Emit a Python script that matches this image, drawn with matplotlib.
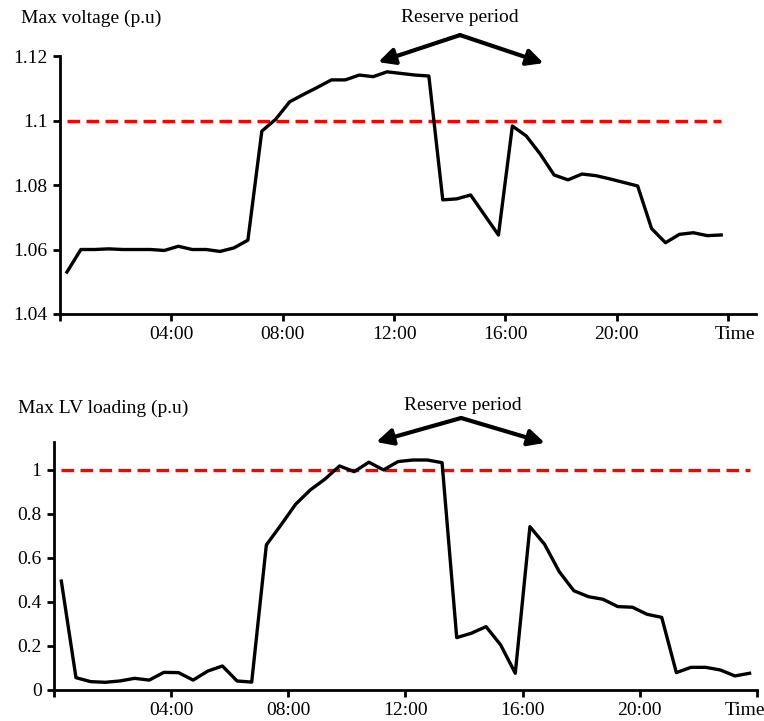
import numpy as np
import matplotlib
matplotlib.use('Agg')
import matplotlib.pyplot as plt
from matplotlib.transforms import ScaledTranslation

plt.rcParams['font.family'] = ['Liberation Serif', 'DejaVu Serif']
plt.rcParams['font.size'] = 14

# half-hour steps, plotted at the middle of each slot
hours = np.arange(48) * 0.5 + 0.25

max_voltage = [1.053, 1.060, 1.060, 1.0602, 1.060, 1.060, 1.060, 1.0597, 1.061, 1.060,
               1.060, 1.0594, 1.0605, 1.0629, 1.0967, 1.1004, 1.1058, 1.1081, 1.1103, 1.1126,
               1.1126, 1.1141, 1.1136, 1.1151, 1.1146, 1.1141, 1.1138, 1.0754, 1.0757, 1.0769,
               1.0707, 1.0645, 1.0983, 1.0952, 1.0896, 1.0831, 1.0816, 1.0834, 1.0829, 1.0819,
               1.0808, 1.0797, 1.0665, 1.0621, 1.0647, 1.0652, 1.0643, 1.0645]
max_loading = [0.495, 0.056, 0.038, 0.035, 0.041, 0.053, 0.045, 0.080, 0.079, 0.045,
               0.086, 0.109, 0.041, 0.036, 0.659, 0.750, 0.844, 0.909, 0.958, 1.018,
               0.992, 1.035, 1.000, 1.038, 1.045, 1.045, 1.033, 0.238, 0.258, 0.288,
               0.205, 0.076, 0.742, 0.662, 0.538, 0.451, 0.424, 0.412, 0.379, 0.376,
               0.344, 0.330, 0.079, 0.103, 0.103, 0.091, 0.064, 0.076]
voltage_limit = 1.1
loading_limit = 1.0

xticks = [0, 4, 8, 12, 16, 20, 24]
xticklabels = ['', '04:00', '08:00', '12:00', '16:00', '20:00', 'Time']

fig = plt.figure(figsize=(7.64, 7.21), dpi=100)
ax1 = fig.add_axes([0.0785, 0.5645, 0.911, 0.3578])
ax2 = fig.add_axes([0.0707, 0.043, 0.920, 0.344])


def style(ax, time_shift):
    for s in ['top', 'right']:
        ax.spines[s].set_visible(False)
    for s in ['left', 'bottom']:
        ax.spines[s].set_linewidth(2)
    ax.tick_params(width=2, length=5, direction='out', pad=4)
    ax.set_xticks(xticks)
    ax.set_xticklabels(xticklabels)
    # the "Time" label sits a little off its tick
    last = ax.get_xticklabels()[-1]
    last.set_transform(last.get_transform() + ScaledTranslation(time_shift / 100, 0, fig.dpi_scale_trans))


arrow = dict(arrowstyle='-|>,head_length=0.7,head_width=0.35',
             color='black', lw=3, shrinkA=0, shrinkB=0)

# top: voltage
ax1.plot(hours, [voltage_limit] * len(hours), color='red', lw=2.4, dashes=(3.8, 1.9))
ax1.plot(hours, max_voltage, color='black', lw=2.4)
ax1.set_xlim(0, 25)
ax1.set_ylim(1.04, 1.12)
ax1.set_yticks([1.04, 1.06, 1.08, 1.1, 1.12])
ax1.set_yticklabels(['1.04', '1.06', '1.08', '1.1', '1.12'])
style(ax1, 7)
fig.text(0.027, 0.975, 'Max voltage (p.u)', ha='left', va='center')
ax1.text(14.37, 1.1318, 'Reserve period', ha='center', va='center')
for tx, ty in [(11.43, 1.1181), (17.37, 1.1178)]:
    ax1.annotate('', xy=(tx, ty), xytext=(14.37, 1.1265), annotation_clip=False, arrowprops=arrow)

# bottom: LV loading
ax2.plot(hours, [loading_limit] * len(hours), color='red', lw=2.4, dashes=(3.8, 1.9))
ax2.plot(hours, max_loading, color='black', lw=2.4)
ax2.set_xlim(0, 24)
ax2.set_ylim(0, 1.127)
ax2.set_yticks([0, 0.2, 0.4, 0.6, 0.8, 1])
ax2.set_yticklabels(['0', '0.2', '0.4', '0.6', '0.8', '1'])
style(ax2, -12)
fig.text(0.024, 0.434, 'Max LV loading (p.u)', ha='left', va='center')
ax2.text(13.95, 1.295, 'Reserve period', ha='center', va='center')
for tx, ty in [(11.0, 1.127), (16.76, 1.123)]:
    ax2.annotate('', xy=(tx, ty), xytext=(13.9, 1.236), annotation_clip=False, arrowprops=arrow)

fig.savefig('out.png', dpi=100)
